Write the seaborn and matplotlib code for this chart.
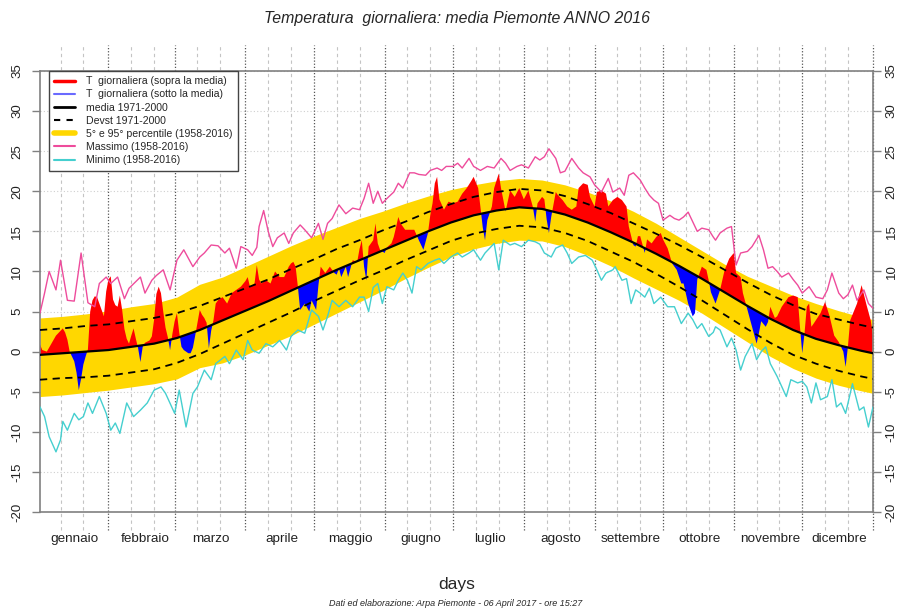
import numpy as np
import matplotlib
matplotlib.use("Agg")
import matplotlib.pyplot as plt
from matplotlib.lines import Line2D
from matplotlib.transforms import offset_copy
import seaborn as sns

# Mesi (2016 bisestile)
months = ["gennaio", "febbraio", "marzo", "aprile", "maggio", "giugno",
          "luglio", "agosto", "settembre", "ottobre", "novembre", "dicembre"]
month_len = [31, 29, 31, 30, 31, 30, 31, 31, 30, 31, 30, 31]
y_ticks = [-20, -15, -10, -5, 0, 5, 10, 15, 20, 25, 30, 35]

# climatologia, letta ogni 10 giorni
clim_day = [1, 11, 21, 31, 41, 51, 61, 71, 81, 91,
            101, 111, 121, 131, 141, 151, 161, 171, 181, 191,
            201, 211, 221, 231, 241, 251, 261, 271, 281, 291,
            301, 311, 321, 331, 341, 351, 361, 366]
media = [-0.4, -0.2, 0.0, 0.2, 0.6, 1.0, 1.7, 2.7, 3.9, 5.1,
         6.3, 7.6, 8.9, 10.2, 11.4, 12.6, 13.8, 15.0, 16.1, 17.0,
         17.6, 18.0, 17.8, 17.1, 16.1, 14.9, 13.6, 12.2, 10.7, 9.1,
         7.4, 5.7, 4.1, 2.7, 1.6, 0.8, 0.1, -0.2]
devst = [3.1, 3.1, 3.2, 3.2, 3.2, 3.2, 3.1, 3.0, 2.9, 2.8,
         2.7, 2.7, 2.6, 2.6, 2.5, 2.5, 2.4, 2.4, 2.3, 2.3,
         2.3, 2.3, 2.3, 2.3, 2.3, 2.4, 2.4, 2.5, 2.6, 2.7,
         2.8, 2.9, 3.0, 3.1, 3.1, 3.2, 3.2, 3.2]
p95 = [4.2, 4.4, 4.7, 5.1, 5.6, 6.0, 6.8, 8.4, 9.3, 10.6,
       11.9, 13.2, 14.4, 15.5, 16.6, 17.5, 18.5, 19.4, 20.2, 20.8,
       21.3, 21.6, 21.4, 20.8, 19.9, 18.8, 17.5, 16.0, 14.3, 12.6,
       10.9, 9.4, 8.2, 7.0, 6.0, 5.1, 4.3, 4.0]
p05 = [-5.6, -5.4, -5.1, -4.8, -4.4, -4.0, -3.4, -2.0, -1.4, -0.4,
       0.8, 2.0, 3.4, 4.8, 6.2, 7.6, 9.1, 10.5, 11.8, 12.8,
       13.5, 13.9, 13.8, 13.1, 12.0, 10.7, 9.2, 7.8, 6.4, 4.8,
       3.0, 1.2, -0.6, -2.1, -3.3, -4.2, -4.9, -5.2]

# temperatura giornaliera 2016 (una riga per mese)
t_day = [1, 2, 4, 6, 8, 10, 11, 12, 13, 14, 15, 16, 17, 18, 19, 20, 21, 22, 23, 24, 25, 26, 27, 28, 29, 30, 31,
         32, 33, 34, 35, 36, 37, 38, 39, 40, 41, 42, 43, 44, 45, 46, 47, 49, 50, 51, 52, 53, 54, 55, 56, 57, 58, 59, 60,
         61, 62, 63, 64, 65, 66, 67, 68, 69, 70, 71, 72, 73, 74, 75, 76, 77, 78, 79, 81, 83, 85, 87, 89, 91,
         92, 93, 95, 96, 97, 98, 100, 102, 104, 106, 108, 110, 111, 112, 113, 114, 115, 116, 117, 119, 120,
         122, 123, 124, 126, 128, 130, 131, 132, 133, 135, 136, 138, 140, 141, 142, 143, 144, 145, 147, 148, 149, 150, 152,
         153, 155, 156, 157, 158, 159, 161, 163, 165, 167, 169, 171, 172, 173, 174, 175, 176, 178, 180, 182,
         184, 186, 188, 190, 191, 193, 194, 195, 196, 197, 199, 200, 202, 203, 205, 207, 209, 211, 213,
         215, 217, 218, 219, 221, 222, 223, 224, 225, 227, 228, 230, 232, 234, 236, 237, 239, 241, 242, 244,
         245, 247, 249, 250, 252, 254, 256, 258, 259, 261, 262, 263, 264, 266, 267, 269, 271, 273, 274,
         276, 278, 280, 282, 283, 285, 287, 288, 289, 291, 293, 294, 295, 297, 299, 301, 303, 305,
         306, 308, 309, 311, 313, 315, 316, 317, 319, 320, 321, 323, 324, 326, 329, 331, 333, 334, 335,
         336, 337, 338, 339, 340, 343, 345, 347, 349, 351, 353, 354, 355, 356, 359, 361, 363, 365, 366]
t_val = [0.9, 0.2, 0.0, 1.0, 2.0, 2.6, 2.9, 2.4, 1.5, 0.0, -0.6, -1.2, -2.6, -4.8, -3.4, -1.6, -0.6, 0.3, 5.0, 6.4, 6.9, 6.8, 6.0, 5.2, 4.4, 7.5, 9.0,
         9.4, 6.5, 5.8, 5.6, 7.0, 5.2, 2.8, 1.6, 1.0, 2.0, 2.9, 1.6, 0.4, -1.3, 0.6, 1.1, 1.4, 1.9, 4.0, 7.2, 8.1, 7.3, 5.0, 3.0, 1.8, 0.2, 2.2, 3.8,
         4.8, 2.4, 0.6, 0.2, 0.0, -0.2, -0.2, 0.5, 2.0, 3.6, 5.2, 4.6, 4.2, 3.6, 0.4, 2.6, 3.9, 6.0, 6.4, 6.8, 6.0, 7.3, 7.7, 8.1, 8.8,
         9.3, 8.1, 8.5, 10.8, 9.0, 8.5, 8.9, 8.5, 10.0, 9.3, 9.3, 10.6, 11.0, 11.2, 10.6, 8.1, 5.2, 5.6, 6.0, 5.0, 6.4,
         5.2, 8.3, 10.6, 9.8, 10.6, 9.8, 9.6, 10.4, 9.3, 10.6, 9.3, 11.4, 11.2, 12.8, 13.9, 10.6, 8.9, 13.1, 13.9, 16.0, 13.5, 12.7, 12.3,
         13.0, 13.5, 14.3, 15.5, 16.8, 16.0, 15.2, 15.2, 15.2, 13.9, 12.7, 14.8, 17.0, 18.5, 21.0, 21.8, 19.0, 17.7, 18.7, 18.5,
         18.7, 19.7, 20.4, 21.3, 21.8, 20.4, 18.0, 15.5, 13.9, 16.4, 18.1, 20.4, 22.2, 20.4, 17.5, 20.1, 19.3, 20.4, 19.0,
         20.1, 18.0, 16.2, 18.5, 19.3, 19.0, 16.5, 14.8, 16.8, 19.9, 19.5, 18.9, 18.1, 17.7, 18.1, 20.4, 21.0, 20.8, 19.3, 18.1,
         19.9, 20.1, 19.7, 18.1, 18.9, 19.3, 18.9, 18.1, 15.6, 13.3, 13.1, 14.4, 14.4, 12.3, 14.0, 13.5, 14.3, 14.8, 14.0,
         12.9, 11.0, 10.2, 8.5, 8.5, 6.0, 4.4, 4.8, 9.0, 10.6, 10.2, 8.9, 7.4, 6.0, 7.7, 10.2, 11.6, 12.3,
         9.8, 9.3, 7.3, 5.2, 3.1, 1.0, 2.3, 3.8, 3.1, 3.7, 5.6, 4.2, 4.4, 5.6, 6.8, 7.0, 6.8, 3.1, -0.2,
         2.3, 5.6, 6.0, 3.1, 3.5, 4.8, 6.2, 4.4, 2.0, 1.2, 0.0, -1.9, 0.6, 3.9, 6.0, 8.3, 6.0, 3.9, 2.0]

# Massimo (1958-2016)
max_day = [1, 3, 5, 8, 10, 13, 16, 19, 22, 25,
           27, 30, 32, 35, 38, 40, 45, 47, 50, 52,
           55, 58, 61, 64, 68, 71, 73, 76, 79, 82,
           84, 87, 89, 92, 94, 96, 97, 99, 101, 103,
           105, 108, 110, 112, 115, 117, 120, 123, 125, 127,
           129, 132, 135, 138, 141, 143, 145, 147, 149, 151,
           153, 156, 158, 160, 163, 165, 167, 170, 172, 175,
           177, 179, 182, 184, 186, 189, 191, 194, 197, 200,
           203, 205, 207, 210, 212, 215, 218, 220, 222, 224,
           227, 229, 231, 234, 237, 239, 242, 244, 247, 250,
           252, 255, 257, 259, 261, 264, 266, 268, 270, 272,
           274, 277, 279, 281, 283, 285, 288, 289, 291, 294,
           296, 297, 299, 302, 304, 306, 308, 311, 313, 316,
           318, 320, 322, 324, 326, 329, 331, 333, 335, 338,
           341, 344, 346, 348, 351, 353, 355, 357, 359, 362,
           364, 366]
max_val = [4.8, 7.3, 10.0, 7.7, 11.4, 6.4, 6.3, 12.3, 6.1, 5.6,
           8.5, 9.3, 8.5, 9.3, 6.6, 7.9, 9.3, 7.3, 8.9, 9.5,
           10.2, 7.7, 11.4, 12.7, 10.6, 11.8, 12.3, 13.3, 13.2, 12.3,
           12.9, 10.4, 13.1, 12.7, 12.0, 13.0, 15.6, 17.6, 15.0, 13.1,
           14.2, 14.8, 13.5, 14.8, 15.8, 15.2, 14.2, 16.0, 14.0, 16.0,
           16.6, 18.3, 17.2, 17.9, 17.7, 19.1, 21.0, 18.5, 20.0, 18.5,
           19.1, 19.9, 21.0, 20.4, 22.3, 22.3, 22.1, 22.0, 22.6, 22.9,
           22.6, 23.1, 23.1, 23.5, 22.9, 24.1, 23.1, 22.6, 23.1, 22.9,
           24.1, 23.5, 22.6, 23.1, 23.3, 22.9, 24.3, 23.9, 24.3, 25.3,
           24.1, 22.3, 22.5, 24.1, 22.9, 22.3, 21.8, 20.8, 19.9, 21.6,
           19.9, 20.4, 19.5, 22.0, 22.3, 21.4, 20.4, 19.5, 18.9, 18.5,
           16.4, 17.0, 16.6, 16.4, 16.8, 17.4, 15.6, 15.0, 15.4, 15.2,
           14.3, 13.9, 14.8, 15.4, 15.6, 10.8, 12.3, 12.5, 13.1, 14.5,
           12.7, 10.4, 10.6, 10.0, 9.3, 9.8, 9.0, 8.3, 7.3, 8.1,
           6.8, 6.6, 7.7, 9.8, 7.3, 6.6, 7.1, 8.3, 6.4, 7.7,
           6.0, 5.4]

# Minimo (1958-2016)
min_day = [1, 3, 5, 8, 10, 11, 13, 16, 18, 20,
           22, 24, 27, 30, 32, 34, 36, 39, 42, 45,
           48, 51, 54, 56, 60, 62, 65, 68, 70, 73,
           76, 78, 82, 84, 87, 90, 92, 94, 97, 100,
           103, 106, 109, 111, 114, 117, 120, 123, 125, 127,
           129, 132, 135, 138, 141, 143, 145, 147, 149, 151,
           153, 156, 158, 160, 162, 164, 166, 168, 171, 174,
           176, 178, 181, 184, 186, 189, 191, 194, 196, 198,
           200, 202, 204, 207, 209, 212, 215, 218, 220, 222,
           225, 227, 230, 232, 234, 237, 240, 243, 245, 247,
           249, 252, 253, 256, 258, 260, 262, 264, 266, 268,
           270, 273, 276, 279, 282, 285, 287, 289, 291, 294,
           296, 297, 299, 302, 304, 306, 308, 310, 313, 315,
           317, 319, 321, 324, 328, 330, 333, 335, 337, 339,
           341, 343, 346, 348, 350, 352, 354, 357, 360, 362,
           364, 366]
min_val = [-6.9, -8.1, -10.6, -12.5, -11.0, -8.7, -9.8, -7.7, -8.5, -8.1,
           -6.4, -7.7, -5.6, -7.7, -9.8, -8.9, -10.2, -6.4, -8.1, -7.3,
           -6.4, -4.8, -4.4, -5.2, -7.7, -4.8, -9.4, -5.2, -4.4, -2.3,
           -3.5, -1.5, -0.6, -1.5, 0.2, -1.0, 1.4, 0.2, -0.2, 1.0,
           0.6, 1.4, 0.2, 1.9, 2.7, 2.3, 5.2, 4.4, 2.7, 4.4,
           6.4, 5.6, 6.4, 5.6, 6.8, 6.8, 5.0, 8.0, 8.5, 6.0,
           8.1, 7.7, 8.9, 9.8, 8.9, 7.3, 10.6, 10.2, 11.0, 11.4,
           11.6, 11.0, 11.8, 12.3, 11.8, 12.3, 12.7, 11.4, 12.3, 12.9,
           13.5, 10.2, 13.9, 13.3, 13.5, 13.1, 13.9, 13.7, 13.4, 12.3,
           11.8, 12.9, 13.3, 12.3, 11.0, 11.8, 12.0, 11.4, 10.2, 8.9,
           9.8, 10.2, 10.6, 8.9, 9.1, 6.0, 7.7, 7.3, 6.8, 7.9,
           6.0, 6.8, 5.6, 5.6, 3.5, 4.8, 4.0, 2.9, 3.5, 1.9,
           2.4, 3.1, 2.7, 0.6, 1.7, 0.2, -2.3, -0.6, 1.0, -1.0,
           0.0, 0.6, -1.5, -3.1, -5.6, -3.5, -3.9, -3.7, -4.4, -6.4,
           -3.9, -6.0, -5.6, -3.5, -6.9, -6.4, -7.7, -4.0, -7.3, -6.9,
           -9.4, -6.9]

sns.set_theme(style="white")
plt.rcParams["font.family"] = ["Liberation Sans", "DejaVu Sans"]
plt.rcParams["axes.unicode_minus"] = False

fig = plt.figure(figsize=(8.98, 6.09), dpi=100)
ax = fig.add_axes([40 / 898, 1 - 512 / 609, 833 / 898, 441 / 609])

# griglia
for v in y_ticks:
    ax.axhline(v, color="#cfcfcf", lw=0.8, ls=(0, (1, 2)), zorder=0)
ends = np.cumsum(month_len)
starts = ends - np.array(month_len)
trans = ax.get_xaxis_transform()
for s, e in zip(starts, ends):
    for d in (s + 10, s + 20):
        ax.plot([d, d], [-0.04, 1.06], transform=trans, color="#c4c4c4",
                lw=0.8, ls=(0, (3, 3)), clip_on=False, zorder=0)
    ax.plot([e, e], [-0.04, 1.06], transform=trans, color="#555555",
            lw=0.9, ls=(0, (1, 1.5)), clip_on=False, zorder=0)

# fascia percentili
ax.fill_between(clim_day, p05, p95, color="#FFD700", lw=0, zorder=1)

# anomalia giornaliera sopra / sotto la media
x_all = np.union1d(t_day, clim_day)
t_all = np.interp(x_all, t_day, t_val)
m_all = np.interp(x_all, clim_day, media)
ax.fill_between(x_all, m_all, t_all, where=t_all >= m_all, interpolate=True,
                color="#FF0000", lw=0, zorder=2)
ax.fill_between(x_all, m_all, t_all, where=t_all <= m_all, interpolate=True,
                color="#0000FF", lw=0, zorder=2)

pink = "#EE4C9C"
cyan = "#45CFCF"
sns.lineplot(x=max_day, y=max_val, ax=ax, color=pink, lw=1.0, zorder=3)
sns.lineplot(x=min_day, y=min_val, ax=ax, color=cyan, lw=1.0, zorder=3)

sd_up = np.array(media) + np.array(devst)
sd_lo = np.array(media) - np.array(devst)
sns.lineplot(x=clim_day, y=sd_up, ax=ax, color="black", lw=1.3,
             linestyle=(0, (4, 3)), zorder=4)
sns.lineplot(x=clim_day, y=sd_lo, ax=ax, color="black", lw=1.3,
             linestyle=(0, (4, 3)), zorder=4)
sns.lineplot(x=clim_day, y=media, ax=ax, color="black", lw=1.6, zorder=5)

ax.set_xlim(1, 366)
ax.set_ylim(-20, 35)
ax.set_xlabel("")
ax.set_ylabel("")

for sp in ax.spines.values():
    sp.set_visible(True)
    sp.set_color("#808080")
    sp.set_linewidth(1.2)

ax.set_yticks(y_ticks)
ax.tick_params(axis="y", left=True, right=True, labelleft=True, labelright=False,
               length=6, width=1, color="#808080", labelsize=9.5,
               labelrotation=90, pad=6, labelcolor="#222222")
for tk in ax.yaxis.get_major_ticks():
    tk.label1.set_va("center")

# etichette asse destro, accostate al bordo della figura
right_tr = offset_copy(ax.get_yaxis_transform(), fig=fig, x=9, y=0, units="points")
for v in y_ticks:
    ax.text(1.0, v, str(v), transform=right_tr, rotation=90, ha="left", va="center",
            fontsize=9.5, color="#222222")

ax.set_xticks(starts + 16)
ax.set_xticklabels(months)
ax.tick_params(axis="x", length=0, pad=15, labelsize=9.7, labelcolor="#222222")

fig.text(457 / 898, 1 - 19 / 609, "Temperatura  giornaliera: media Piemonte ANNO 2016",
         ha="center", va="center", style="italic", fontsize=11.4)
fig.text(457 / 898, 1 - 585 / 609, "days", ha="center", va="center", fontsize=12.5)
fig.text(456 / 898, 1 - 603 / 609,
         "Dati ed elaborazione: Arpa Piemonte - 06 April 2017 - ore 15:27",
         ha="center", va="center", style="italic", fontsize=6.5)

handles = [
    Line2D([], [], color="#FF0000", lw=2.5),
    Line2D([], [], color="#6a6aff", lw=1.5),
    Line2D([], [], color="black", lw=2.0),
    Line2D([], [], color="black", lw=1.5, ls=(0, (3, 3))),
    Line2D([], [], color="#FFD700", lw=4),
    Line2D([], [], color=pink, lw=1.5),
    Line2D([], [], color=cyan, lw=1.5),
]
labels = ["T  giornaliera (sopra la media)", "T  giornaliera (sotto la media)",
          "media 1971-2000", "Devst 1971-2000", "5° e 95° percentile (1958-2016)",
          "Massimo (1958-2016)", "Minimo (1958-2016)"]
leg = fig.legend(handles, labels, loc="upper left",
                 bbox_to_anchor=(49 / 898, 1 - 71 / 609), bbox_transform=fig.transFigure,
                 fontsize=7.6, frameon=True, fancybox=False, framealpha=1,
                 edgecolor="#444444", handlelength=2.0, handletextpad=1.0,
                 labelspacing=0.3, borderpad=0.5, borderaxespad=0)
leg.get_frame().set_linewidth(1.0)

fig.savefig("out.png", dpi=100)
